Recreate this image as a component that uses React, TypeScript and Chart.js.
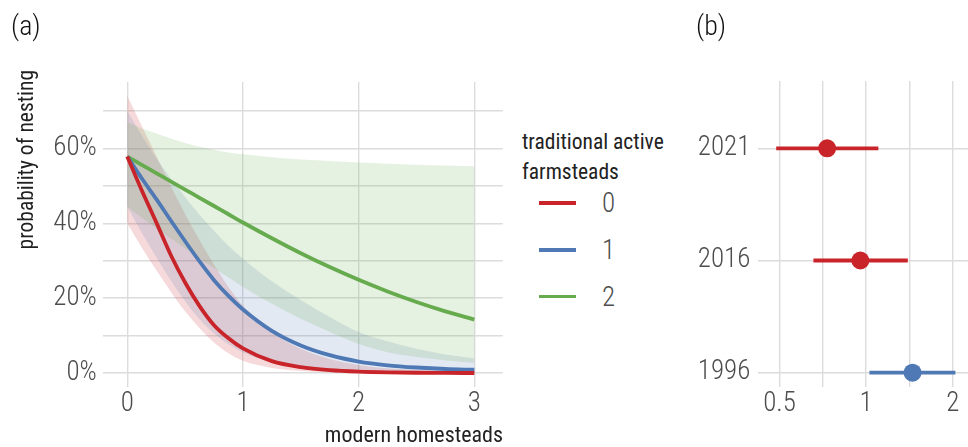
import React, { useEffect, useRef } from 'react';
import { Chart, registerables } from 'chart.js';
Chart.register(...registerables);

const FONT = "'Roboto Condensed', 'Liberation Sans Narrow', 'Arial Narrow', Roboto, sans-serif";
const RED = '#C8242A';
const BLUE = '#4E79B5';
const GREEN = '#67AB4F';
const RED_FILL = 'rgba(200,36,42,0.17)';
const BLUE_FILL = 'rgba(78,121,181,0.16)';
const GREEN_FILL = 'rgba(103,171,79,0.17)';
const GRID = '#dcdcdc';
const TICK = '#4d4d4d';
const TICK_SIZE = 27;

// Panel (a): modern homesteads vs probability of nesting (%)
const homesteads = [0, 0.125, 0.25, 0.375, 0.5, 0.625, 0.75, 0.875, 1, 1.25, 1.5, 1.75, 2, 2.25, 2.5, 2.75, 3];
const farm0 = [57.8, 48.8, 40.3, 31.6, 24.2, 17.9, 12.8, 9.3, 6.6, 3.2, 1.6, 0.8, 0.4, 0.2, 0.1, 0.05, 0.03];
const farm0Lo = [40, 33.5, 27.5, 21.8, 16.5, 12, 8.2, 5.3, 3.3, 1.4, 0.6, 0.25, 0.1, 0.05, 0.02, 0.01, 0];
const farm0Hi = [74, 66, 58, 50, 42.5, 35.5, 29, 23, 18, 11, 6.5, 3.8, 2.2, 1.3, 0.8, 0.5, 0.3];
const farm1 = [57.8, 52, 46.5, 40.8, 35.2, 29.8, 24.8, 20.6, 17, 11.3, 7.4, 4.8, 3.1, 2.1, 1.5, 1.1, 0.9];
const farm1Lo = [44.5, 37.5, 31, 24.8, 19.2, 14.4, 10.6, 7.7, 5.5, 2.8, 1.4, 0.7, 0.35, 0.18, 0.1, 0.05, 0.03];
const farm1Hi = [70, 63.5, 57.5, 52, 47, 42.3, 38, 34, 30.5, 24.5, 19.5, 15, 11, 8.5, 6.5, 5, 4];
const farm2 = [57.8, 55.6, 53.4, 51.2, 49.0, 46.8, 44.6, 42.4, 40.2, 36, 32, 28.3, 24.9, 21.8, 19, 16.5, 14.3];
const farm2Lo = [44.5, 41.5, 38.7, 36, 33.3, 30.6, 28, 25.5, 23, 18.5, 14.5, 11, 7.8, 5.6, 4.3, 3.4, 2.7];
const farm2Hi = [67, 65.3, 64, 62.6, 61.4, 60.4, 59.6, 58.9, 58.4, 57.6, 57, 56.6, 56.2, 55.9, 55.6, 55.4, 55.2];
const xTicksA = [0, 1, 2, 3];
const yTicksA = [0, 10, 20, 30, 40, 50, 60, 70];
const legendLabels = ['0', '1', '2'];

// Panel (b): odds ratios by year
const years = ['1996', '2016', '2021'];
const estimate = [1.45, 0.955, 0.732];
const lower = [1.027, 0.656, 0.487];
const upper = [2.043, 1.396, 1.103];
const yearColors = [BLUE, RED, RED];
const xTicksB = [0.5, Math.SQRT1_2, 1, Math.SQRT2, 2];
const xLabelsB = [0.5, 1, 2];

const tickFont = { family: FONT, size: TICK_SIZE, weight: '300' };

function PanelA() {
  const ref = useRef<HTMLCanvasElement>(null);
  useEffect(() => {
    const pts = (ys: number[]) => homesteads.map((x, i) => ({ x, y: ys[i] }));
    const line = (ys: number[], c: string) => ({
      data: pts(ys), borderColor: c, borderWidth: 3.8, pointRadius: 0, fill: false,
      cubicInterpolationMode: 'monotone' as const, order: 0,
    });
    const edge = (ys: number[], order: number, fill: any, bg: string) => ({
      data: pts(ys), borderWidth: 0, borderColor: 'rgba(0,0,0,0)', pointRadius: 0,
      backgroundColor: bg, fill, cubicInterpolationMode: 'monotone' as const, order,
    });
    const chart = new Chart(ref.current!, {
      type: 'line',
      data: {
        datasets: [
          line(farm0, RED),
          line(farm1, BLUE),
          line(farm2, GREEN),
          edge(farm0Lo, 3, false, RED_FILL),
          edge(farm0Hi, 3, 3, RED_FILL),
          edge(farm1Lo, 2, false, BLUE_FILL),
          edge(farm1Hi, 2, 5, BLUE_FILL),
          edge(farm2Lo, 1, false, GREEN_FILL),
          edge(farm2Hi, 1, 7, GREEN_FILL),
        ] as any,
      },
      options: {
        animation: false,
        responsive: false,
        events: [],
        layout: { autoPadding: false, padding: { left: 0, top: 82, right: 12.3, bottom: 30 } },
        plugins: { legend: { display: false }, tooltip: { enabled: false } },
        scales: {
          x: {
            type: 'linear', min: -0.207, max: 3.245,
            afterBuildTicks: (s: any) => { s.ticks = xTicksA.map((v) => ({ value: v })); },
            afterFit: (s: any) => { s.height = 30; s.paddingLeft = 0; s.paddingRight = 0; },
            ticks: { font: tickFont, color: TICK, padding: 1.5, autoSkip: false, maxRotation: 0, callback: (v: any) => String(v) },
            grid: { color: GRID, lineWidth: 1.4, drawTicks: false },
            border: { display: false },
          },
          y: {
            type: 'linear', min: -3.7, max: 77.7,
            afterBuildTicks: (s: any) => { s.ticks = yTicksA.map((v) => ({ value: v })); },
            afterFit: (s: any) => { s.width = 103.3; s.paddingTop = 0; s.paddingBottom = 0; },
            ticks: { font: tickFont, color: TICK, padding: 6.5, autoSkip: false, callback: (v: any) => (v % 20 === 0 ? v + '%' : '') },
            grid: { color: GRID, lineWidth: 1.4, drawTicks: false },
            border: { display: false },
          },
        },
      } as any,
    });
    return () => chart.destroy();
  }, []);
  return <canvas ref={ref} width={515} height={447} style={{ position: 'absolute', left: 0, top: 0, width: 515, height: 447 }} />;
}

function PanelB() {
  const ref = useRef<HTMLCanvasElement>(null);
  useEffect(() => {
    const bars = years.map((_, i) => ({
      data: [{ x: lower[i], y: i }, { x: upper[i], y: i }],
      showLine: true, borderColor: yearColors[i], borderWidth: 3.8, pointRadius: 0, order: 1,
    }));
    const dots = {
      data: years.map((_, i) => ({ x: estimate[i], y: i })),
      showLine: false, pointRadius: 9, pointBorderWidth: 0,
      backgroundColor: yearColors, pointBackgroundColor: yearColors, order: 0,
    };
    const chart = new Chart(ref.current!, {
      type: 'scatter',
      data: { datasets: [dots, ...bars] as any },
      options: {
        animation: false,
        responsive: false,
        events: [],
        layout: { autoPadding: false, padding: { left: 0, top: 81, right: 0, bottom: 30.3 } },
        plugins: { legend: { display: false }, tooltip: { enabled: false } },
        scales: {
          x: {
            type: 'logarithmic', min: 0.422, max: 2.26,
            afterBuildTicks: (s: any) => { s.ticks = xTicksB.map((v) => ({ value: v })); },
            afterFit: (s: any) => { s.height = 30; s.paddingLeft = 0; s.paddingRight = 0; },
            ticks: { font: tickFont, color: TICK, padding: 1.5, autoSkip: false, maxRotation: 0,
              callback: (v: any) => (xLabelsB.some((l) => Math.abs(l - v) < 1e-6) ? String(v) : '') },
            grid: { color: GRID, lineWidth: 1.4, drawTicks: false },
            border: { display: false },
          },
          y: {
            type: 'linear', min: -0.125, max: 2.6,
            afterBuildTicks: (s: any) => { s.ticks = years.map((_, i) => ({ value: i })); },
            afterFit: (s: any) => { s.width = 68.3; s.paddingTop = 0; s.paddingBottom = 0; },
            ticks: { font: tickFont, color: TICK, padding: 8, autoSkip: false, callback: (v: any) => years[v] ?? '' },
            grid: { color: GRID, lineWidth: 1.4, drawTicks: false },
            border: { display: false },
          },
        },
      } as any,
    });
    return () => chart.destroy();
  }, []);
  return <canvas ref={ref} width={278} height={447} style={{ position: 'absolute', left: 690, top: 0, width: 278, height: 447 }} />;
}

export default function App() {
  const colors = [RED, BLUE, GREEN];
  const legendY = [203.3, 250, 296.5];
  return (
    <div style={{ position: 'fixed', left: 0, top: 0, width: 968, height: 447, background: '#fff', fontFamily: FONT, overflow: 'hidden' }}>
      <PanelA />
      <PanelB />
      <div style={{ position: 'absolute', left: 11, top: 8, fontSize: 28, fontWeight: 300, lineHeight: '36px', color: '#111' }}>(a)</div>
      <div style={{ position: 'absolute', left: 696, top: 8, fontSize: 28, fontWeight: 300, lineHeight: '36px', color: '#111' }}>(b)</div>
      <div style={{ position: 'absolute', left: 14, top: 70, fontSize: 21.5, lineHeight: '24px', color: '#222', writingMode: 'vertical-rl', transform: 'rotate(180deg)', whiteSpace: 'nowrap' }}>probability of nesting</div>
      <div style={{ position: 'absolute', right: 968 - 503, top: 421, fontSize: 22, lineHeight: '28px', color: '#222', whiteSpace: 'nowrap' }}>modern homesteads</div>
      <div style={{ position: 'absolute', left: 522, top: 126.7, fontSize: 21.5, lineHeight: '30px', color: '#222', whiteSpace: 'nowrap' }}>
        traditional active<br />farmsteads
      </div>
      {legendLabels.map((l, i) => (
        <React.Fragment key={l}>
          <div style={{ position: 'absolute', left: 539, top: legendY[i] - 1.9, width: 37, height: 3.8, background: colors[i] }} />
          <div style={{ position: 'absolute', left: 602, top: legendY[i] - 17, fontSize: 27, fontWeight: 300, lineHeight: '34px', color: TICK }}>{l}</div>
        </React.Fragment>
      ))}
    </div>
  );
}
